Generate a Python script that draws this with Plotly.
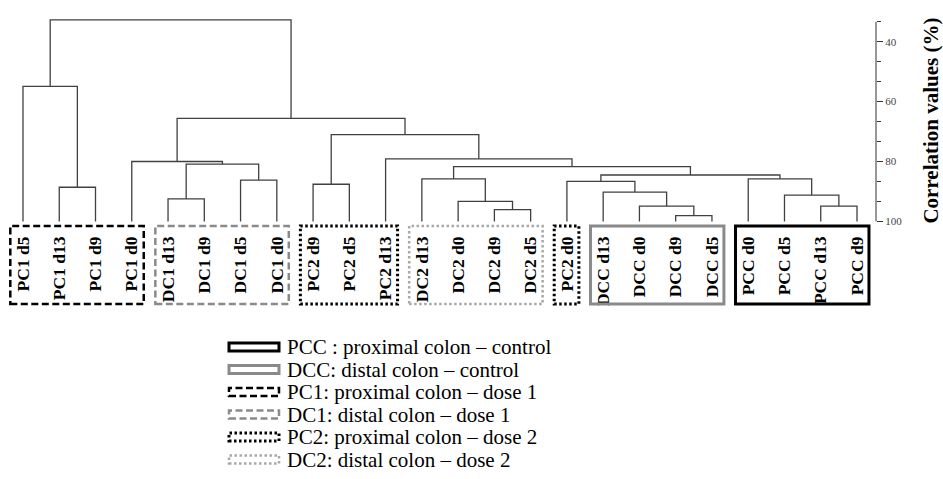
import plotly.graph_objects as go

# ---------------- data ----------------
leaf_labels = ["PC1 d5", "PC1 d13", "PC1 d9", "PC1 d0",
               "DC1 d13", "DC1 d9", "DC1 d5", "DC1 d0",
               "PC2 d9", "PC2 d5", "PC2 d13",
               "DC2 d13", "DC2 d0", "DC2 d9", "DC2 d5",
               "PC2 d0",
               "DCC d13", "DCC d0", "DCC d9", "DCC d5",
               "PCC d0", "PCC d5", "PCC d13", "PCC d9"]
leaf_height = 100.0

# merges: ids 0..23 are leaves, merge k gets id 24+k
merge_a = [1, 0, 4, 6, 26, 3, 8, 13, 12, 11, 18, 17, 16, 15, 22, 21, 20, 37, 33, 10, 30, 29, 25]
merge_b = [2, 24, 5, 7, 27, 28, 9, 14, 31, 32, 19, 34, 35, 36, 23, 38, 39, 40, 41, 42, 43, 44, 45]
merge_h = [88.6, 54.9, 92.5, 86.2, 80.9, 80.0, 87.6, 96.1, 93.3, 85.8, 98.1, 94.9,
           90.2, 86.6, 94.9, 91.2, 85.8, 84.5, 81.7, 79.1, 71.0, 65.6, 32.7]

box_group = ["PC1", "DC1", "PC2", "DC2", "PC2", "DCC", "PCC"]
box_first = [0, 4, 8, 11, 15, 16, 20]
box_last = [3, 7, 10, 14, 15, 19, 23]

legend_groups = ["PCC", "DCC", "PC1", "DC1", "PC2", "DC2"]
legend_texts = ["PCC : proximal colon \u2013 control",
                "DCC: distal colon \u2013 control",
                "PC1: proximal colon \u2013 dose 1",
                "DC1: distal colon \u2013 dose 1",
                "PC2: proximal colon \u2013 dose 2",
                "DC2: distal colon \u2013 dose 2"]

y_tick_vals = [40, 60, 80, 100]
y_title = "Correlation values (%)"

# ---------------- styles ----------------
GRAY = "#8a8a8a"
LGRAY = "#a8a8a8"
styles = {
    "PCC": dict(color="black", dash="solid", width=3),
    "DCC": dict(color=GRAY, dash="solid", width=3),
    "PC1": dict(color="black", dash="7px,3.5px", width=2.5),
    "DC1": dict(color=GRAY, dash="7px,3.5px", width=2.5),
    "PC2": dict(color="black", dash="2.5px,2.5px", width=3),
    "DC2": dict(color=LGRAY, dash="2.5px,2.5px", width=2.5),
}

W, H = 943, 479
ML, MR, MT, MB = 0, 67, 19, 257
PW, PH = W - ML - MR, H - MT - MB


def py2paper(py):
    return (H - MB - py) / PH


def px2paper(px):
    return (px - ML) / PW


# ---------------- dendrogram geometry ----------------
n = len(leaf_labels)
pos = {i: float(i) for i in range(n)}
hgt = {i: leaf_height for i in range(n)}
xs, ys = [], []
for k, (a, b, h) in enumerate(zip(merge_a, merge_b, merge_h)):
    xa, xb = pos[a], pos[b]
    xs += [xa, xa, xb, xb, None]
    ys += [hgt[a], h, h, hgt[b], None]
    pos[n + k] = (xa + xb) / 2
    hgt[n + k] = h

fig = go.Figure()
fig.add_trace(go.Scatter(x=xs, y=ys, mode="lines",
                         line=dict(color="#404040", width=1.3),
                         hoverinfo="skip", showlegend=False))

# ---------------- group boxes ----------------
for g, f, l in zip(box_group, box_first, box_last):
    st = styles[g]
    fig.add_shape(type="rect", xref="x", yref="paper",
                  x0=f - 0.35, x1=l + 0.33,
                  y0=py2paper(304), y1=py2paper(226),
                  line=dict(color=st["color"], dash=st["dash"], width=st["width"]),
                  fillcolor="rgba(0,0,0,0)", layer="above")

# ---------------- legend ----------------
for i, (g, t) in enumerate(zip(legend_groups, legend_texts)):
    st = styles[g]
    cy = 347 + 22.5 * i
    fig.add_shape(type="rect", xref="paper", yref="paper",
                  x0=px2paper(229), x1=px2paper(279),
                  y0=py2paper(cy + 4), y1=py2paper(cy - 4),
                  line=dict(color=st["color"], dash=st["dash"], width=st["width"]),
                  fillcolor="rgba(0,0,0,0)")
    fig.add_annotation(xref="paper", yref="paper", x=px2paper(285), y=py2paper(cy),
                       text=t, showarrow=False, xanchor="left", yanchor="middle",
                       font=dict(family="Liberation Serif", size=21, color="black"))

# axis line (right side), from the top minor tick down to 100
fig.add_shape(type="line", xref="paper", yref="y", x0=1, x1=1,
              y0=100 - 200 / 3, y1=100, line=dict(color="#333333", width=1))

fig.update_layout(
    width=W, height=H,
    margin=dict(l=ML, r=MR, t=MT, b=MB),
    paper_bgcolor="white", plot_bgcolor="white",
    showlegend=False,
    xaxis=dict(range=[-0.634, 23.524], showgrid=False, zeroline=False,
               showline=False, tickmode="array",
               tickvals=list(range(n)), ticktext=leaf_labels,
               tickangle=-90, ticks="", ticklabelstandoff=10,
               tickfont=dict(family="Liberation Serif", size=17.5,
                             color="black", weight="bold")),
    yaxis=dict(range=[100.2, 32.4], side="right", showgrid=False,
               zeroline=False, showline=False,
               tickmode="array", tickvals=y_tick_vals,
               ticks="outside", ticklen=6, tickcolor="#333333", tickwidth=1,
               minor=dict(tick0=40, dtick=20 / 3, ticks="outside",
                          ticklen=4, tickcolor="#333333", tickwidth=1),
               tickfont=dict(family="Liberation Serif", size=11, color="#444444"),
               title=dict(text=y_title, standoff=22,
                          font=dict(family="Liberation Serif", size=21,
                                    color="black", weight="bold"))),
)

fig.write_html("out.html")
